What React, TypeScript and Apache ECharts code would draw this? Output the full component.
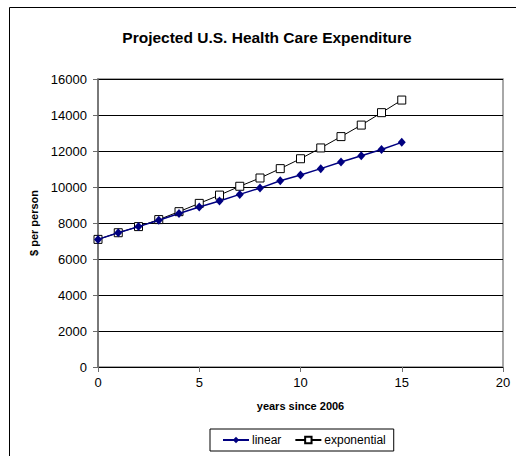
import React, { useEffect, useRef } from "react";
import * as echarts from "echarts";

// Projected spending per person, by years since 2006
const yearsSince2006 = [0, 1, 2, 3, 4, 5, 6, 7, 8, 9, 10, 11, 12, 13, 14, 15];
const linearCost = [7090, 7460, 7800, 8150, 8530, 8890, 9220, 9590, 9940, 10350, 10670, 11020, 11390, 11740, 12080, 12480];
const exponentialCost = [7090, 7460, 7800, 8190, 8630, 9090, 9550, 10040, 10500, 11020, 11570, 12170, 12800, 13440, 14130, 14830];

const seriesNames = ["linear", "exponential"];
const titleText = "Projected U.S. Health Care Expenditure";
const xAxisTitle = "years since 2006";
const yAxisTitle = "$ per person";

const FONT = "Liberation Sans, Arial, Helvetica, sans-serif";

export default function App() {
  const ref = useRef<HTMLDivElement>(null);

  useEffect(() => {
    document.body.style.margin = "0";
    if (!ref.current) return;
    const chart = echarts.init(ref.current, undefined, { renderer: "svg" });

    const pairs = (vals: number[]) => yearsSince2006.map((x, i) => [x, vals[i]]);

    chart.setOption({
      animation: false,
      backgroundColor: "#ffffff",
      textStyle: { fontFamily: FONT },
      title: {
        text: titleText,
        left: 262,
        top: 24,
        textAlign: "center",
        textStyle: { fontFamily: FONT, fontSize: 15.5, fontWeight: "bold", color: "#000" },
      },
      graphic: [
        {
          type: "rect",
          shape: { x: 9.5, y: 7.5, width: 700, height: 700 },
          style: { fill: "none", stroke: "#000", lineWidth: 1 },
          silent: true,
          z: 100,
        },
      ],
      grid: {
        left: 98,
        right: 13,
        top: 79,
        bottom: 89,
        show: true,
        borderColor: "#8c8c8c",
        borderWidth: 1.5,
        backgroundColor: "transparent",
      },
      legend: {
        data: seriesNames,
        left: 210,
        top: 429,
        orient: "horizontal",
        borderColor: "#000",
        borderWidth: 1,
        padding: [5, 8, 5, 12],
        itemWidth: 26,
        itemHeight: 8,
        itemGap: 13,
        textStyle: { fontFamily: FONT, fontSize: 12, color: "#000", padding: [0, 0, 0, -2] },
      },
      xAxis: {
        type: "value",
        min: 0,
        max: 20,
        interval: 5,
        name: xAxisTitle,
        nameLocation: "middle",
        nameGap: 33,
        nameTextStyle: { fontFamily: FONT, fontSize: 11, fontWeight: "bold", color: "#000" },
        axisLine: { show: true, onZero: false, lineStyle: { color: "#000", width: 1 } },
        axisTick: { show: true, inside: false, length: 5, lineStyle: { color: "#707070" } },
        axisLabel: { fontFamily: FONT, fontSize: 13, color: "#000", margin: 9 },
        splitLine: { show: false },
      },
      yAxis: {
        type: "value",
        min: 0,
        max: 16000,
        interval: 2000,
        name: yAxisTitle,
        nameLocation: "middle",
        nameRotate: 90,
        nameGap: 56,
        nameTextStyle: { fontFamily: FONT, fontSize: 11, fontWeight: "bold", color: "#000" },
        axisLine: { show: true, lineStyle: { color: "#6a6a6a", width: 1.5 } },
        axisTick: { show: true, inside: false, length: 5, lineStyle: { color: "#6a6a6a" } },
        axisLabel: {
          fontFamily: FONT,
          fontSize: 13,
          color: "#000",
          margin: 11,
          formatter: (v: number) => String(v),
        },
        splitLine: { show: true, lineStyle: { color: "#000", width: 1 } },
      },
      series: [
        {
          name: "exponential",
          type: "line",
          data: pairs(exponentialCost),
          symbol: "rect",
          symbolSize: 8,
          showAllSymbol: true,
          lineStyle: { color: "#000", width: 1 },
          itemStyle: { color: "#ffffff", borderColor: "#000", borderWidth: 1 },
          z: 2,
        },
        {
          name: "linear",
          type: "line",
          data: pairs(linearCost),
          symbol: "diamond",
          symbolSize: [8, 9],
          showAllSymbol: true,
          lineStyle: { color: "#000080", width: 1.5 },
          itemStyle: { color: "#000080", borderColor: "#000080", borderWidth: 0 },
          z: 3,
        },
      ],
    });

    return () => chart.dispose();
  }, []);

  return <div ref={ref} style={{ width: 516, height: 456 }} />;
}
